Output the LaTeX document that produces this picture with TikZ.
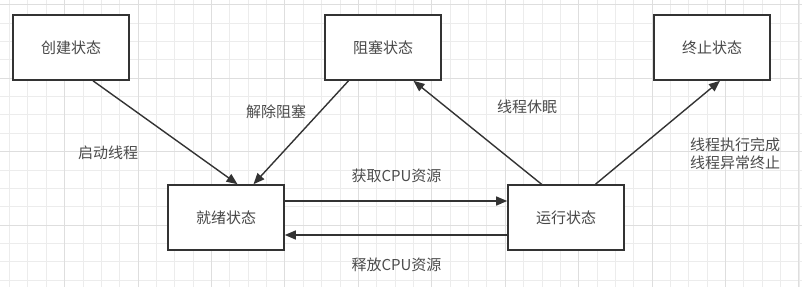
\documentclass[tikz,border=0pt]{standalone}
\usepackage{fontspec}
\setmainfont{Noto Sans CJK SC}
\usetikzlibrary{arrows.meta,positioning}

\begin{document}
\begin{tikzpicture}[
    state/.style={draw=black!80, line width=1.6pt, fill=white, minimum width=116pt, minimum height=65pt, inner sep=0pt, font=\fontsize{15}{18}\selectfont, text=black!72},
    note/.style={align=center, font=\fontsize{15}{18}\selectfont, text=black!70},
    trans/.style={-{Triangle[length=11pt,width=9pt]}, line width=1.4pt, draw=black!80},
    minor/.style={gray!15, line width=0.8pt},
    major/.style={gray!26, line width=1pt},
    node distance=37.4pt
]
\useasboundingbox (0,0) rectangle (802pt,-287pt);
\fill[white] (0,0) rectangle (802pt,-287pt);
\foreach \i [evaluate=\i as \x using 138+18.36*\i] in {-7,...,36}
  \draw[minor] (\x pt,0) -- (\x pt,-287pt);
\foreach \i [evaluate=\i as \y using 225-18.36*\i] in {-3,...,12}
  \draw[minor] (0,-\y pt) -- (802pt,-\y pt);
\foreach \i [evaluate=\i as \x using 138+73.44*\i] in {-1,...,9}
  \draw[major] (\x pt,0) -- (\x pt,-287pt);
\foreach \i [evaluate=\i as \y using 225-73.44*\i] in {0,...,3}
  \draw[major] (0,-\y pt) -- (802pt,-\y pt);

\node[state] (create) at (71pt,-47.5pt) {创建状态};
\node[state, right=194.4pt of create] (blocked) {阻塞状态};
\node[state, right=211.4pt of blocked] (dead) {终止状态};
\node[state, below right=103.4pt and 37.4pt of create] (ready) {就绪状态};
\node[state, right=222.4pt of ready] (running) {运行状态};

\draw[trans] ([xshift=22pt]create.south) -- ([xshift=11.5pt]ready.north);
\draw[trans] ([xshift=-34.5pt]blocked.south) -- ([xshift=27.5pt]ready.north);
\draw[trans] ([xshift=-24.5pt]running.north) -- ([xshift=30.5pt]blocked.south);
\draw[trans] ([xshift=29.5pt]running.north) -- ([xshift=8pt]dead.south);
\draw[trans] ([yshift=16.5pt]ready.east) -- ([yshift=16.5pt]running.west);
\draw[trans] ([yshift=-17.5pt]running.west) -- ([yshift=-17.5pt]ready.east);

\node[note] (start) at (108pt,-153pt) {启动线程};
\node[note] (unblock) at (276pt,-112pt) {解除阻塞};
\node[note] (getcpu) at (396.5pt,-176pt) {获取CPU资源};
\node[note] (freecpu) at (396.5pt,-265pt) {释放CPU资源};
\node[note] (sleep) at (527pt,-107pt) {线程休眠};
\node[note] (finish) at (735pt,-154pt) {线程执行完成\\线程异常终止};
\end{tikzpicture}
\end{document}
